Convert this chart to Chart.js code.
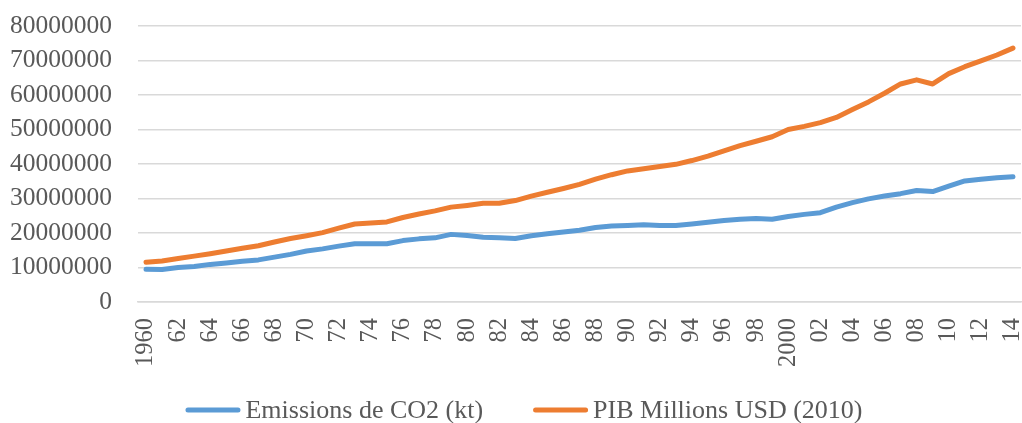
<!DOCTYPE html>
<html>
<head>
<meta charset="utf-8">
<script src="https://cdn.jsdelivr.net/npm/chart.js@4"></script>
<style>
  html, body { margin: 0; padding: 0; background: #ffffff; }
  #wrap { width: 1022px; height: 423px; }
</style>
</head>
<body>
<div id="wrap"><canvas id="chart"></canvas></div>
<script>
// Years on the horizontal axis
const years = [
  1960, 1961, 1962, 1963, 1964, 1965, 1966, 1967, 1968, 1969,
  1970, 1971, 1972, 1973, 1974, 1975, 1976, 1977, 1978, 1979,
  1980, 1981, 1982, 1983, 1984, 1985, 1986, 1987, 1988, 1989,
  1990, 1991, 1992, 1993, 1994, 1995, 1996, 1997, 1998, 1999,
  2000, 2001, 2002, 2003, 2004, 2005, 2006, 2007, 2008, 2009,
  2010, 2011, 2012, 2013, 2014
];

// Shortened year labels, shown every second year
const yearLabels = [
  '1960', '', '62', '', '64', '', '66', '', '68', '',
  '70', '', '72', '', '74', '', '76', '', '78', '',
  '80', '', '82', '', '84', '', '86', '', '88', '',
  '90', '', '92', '', '94', '', '96', '', '98', '',
  '2000', '', '02', '', '04', '', '06', '', '08', '',
  '10', '', '12', '', '14'
];

// CO2 emissions (kt)
const co2 = [
  9500000, 9400000, 10000000, 10300000, 10900000, 11300000, 11800000, 12200000, 13000000, 13800000,
  14800000, 15400000, 16200000, 16900000, 16900000, 16900000, 17800000, 18300000, 18600000, 19600000,
  19300000, 18800000, 18600000, 18400000, 19200000, 19800000, 20300000, 20800000, 21600000, 22000000,
  22200000, 22400000, 22200000, 22200000, 22600000, 23100000, 23600000, 24000000, 24200000, 24000000,
  24800000, 25400000, 25900000, 27500000, 28800000, 29900000, 30700000, 31400000, 32300000, 32000000,
  33600000, 35100000, 35600000, 36000000, 36300000
];

// GDP, millions USD (constant 2010)
const pib = [
  11500000, 11900000, 12600000, 13300000, 14000000, 14800000, 15600000, 16300000, 17400000, 18400000,
  19200000, 20100000, 21400000, 22600000, 22900000, 23200000, 24500000, 25500000, 26400000, 27500000,
  28000000, 28600000, 28600000, 29400000, 30700000, 31800000, 32900000, 34100000, 35600000, 36900000,
  38000000, 38600000, 39300000, 39900000, 41000000, 42300000, 43800000, 45300000, 46600000, 47900000,
  50000000, 50900000, 52000000, 53500000, 55800000, 58000000, 60500000, 63200000, 64400000, 63200000,
  66200000, 68200000, 69900000, 71600000, 73600000
];

const seriesNames = ['Emissions de CO2 (kt)', 'PIB Millions USD (2010)'];
const seriesColors = ['#5b9bd5', '#ed7d31'];
const yMin = 0, yMax = 80000000, yStep = 10000000;

const textColor = '#595959';
const gridColor = '#d9d9d9';
const fontFamily = '"Liberation Serif", "Times New Roman", serif';

// Bottom legend: short rounded line swatch followed by the series name
const bottomLegend = {
  id: 'bottomLegend',
  afterDraw(chart) {
    const ctx = chart.ctx;
    const font = '26px ' + fontFamily;
    const swatch = 55, gap = 5, itemGap = 50;
    const centerX = 524, centerY = 410;
    ctx.save();
    ctx.font = font;
    const items = chart.data.datasets.map(ds => ({
      text: ds.label,
      color: ds.borderColor,
      width: swatch + gap + ctx.measureText(ds.label).width
    }));
    const total = items.reduce((s, it) => s + it.width, 0) + itemGap * (items.length - 1);
    let x = centerX - total / 2;
    items.forEach(it => {
      ctx.strokeStyle = it.color;
      ctx.lineWidth = 5;
      ctx.lineCap = 'round';
      ctx.beginPath();
      ctx.moveTo(x + 2.5, centerY);
      ctx.lineTo(x + swatch - 2.5, centerY);
      ctx.stroke();
      ctx.fillStyle = textColor;
      ctx.textBaseline = 'middle';
      ctx.textAlign = 'left';
      ctx.fillText(it.text, x + swatch + gap, centerY + 1);
      x += it.width + itemGap;
    });
    ctx.restore();
  }
};

new Chart(document.getElementById('chart'), {
  type: 'line',
  data: {
    labels: years,
    datasets: [
      {
        label: seriesNames[0],
        data: co2,
        borderColor: seriesColors[0],
        backgroundColor: seriesColors[0],
        borderWidth: 5,
        pointRadius: 0,
        tension: 0,
        borderCapStyle: 'round',
        borderJoinStyle: 'round'
      },
      {
        label: seriesNames[1],
        data: pib,
        borderColor: seriesColors[1],
        backgroundColor: seriesColors[1],
        borderWidth: 5,
        pointRadius: 0,
        tension: 0,
        borderCapStyle: 'round',
        borderJoinStyle: 'round'
      }
    ]
  },
  plugins: [bottomLegend],
  options: {
    responsive: true,
    maintainAspectRatio: false,
    animation: false,
    layout: { padding: { left: 0, right: 1, top: 26, bottom: 51 } },
    plugins: {
      tooltip: { enabled: false },
      legend: { display: false }
    },
    scales: {
      x: {
        offset: true,
        grid: { display: false, drawTicks: false },
        border: { display: true, color: gridColor, width: 1.5 },
        ticks: {
          autoSkip: false,
          minRotation: 90,
          maxRotation: 90,
          padding: 16,
          color: textColor,
          font: { family: fontFamily, size: 24.5 },
          callback: (value, index) => yearLabels[index]
        },
        afterFit(scale) {
          scale.height = 70;
          scale.paddingLeft = 0;
          scale.paddingRight = 0;
        }
      },
      y: {
        min: yMin,
        max: yMax,
        grid: { color: gridColor, lineWidth: 1.5, drawTicks: false },
        border: { display: false },
        ticks: {
          autoSkip: false,
          stepSize: yStep,
          padding: 26,
          color: textColor,
          font: { family: fontFamily, size: 25.5 },
          callback: v => String(v)
        },
        afterFit(scale) {
          scale.width = 138;
          scale.paddingTop = 0;
          scale.paddingBottom = 0;
        }
      }
    }
  }
});
</script>
</body>
</html>
